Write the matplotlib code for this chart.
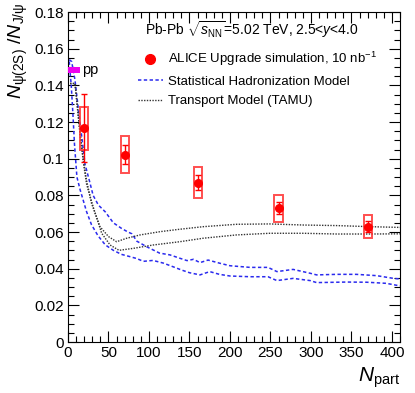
import matplotlib
matplotlib.use("Agg")
import matplotlib.pyplot as plt
from matplotlib.patches import Rectangle
from matplotlib.ticker import MultipleLocator

plt.rcParams['font.family'] = ['Liberation Sans', 'DejaVu Sans']
plt.rcParams['mathtext.fontset'] = 'custom'
plt.rcParams['mathtext.rm'] = 'Liberation Sans'
plt.rcParams['mathtext.it'] = 'Liberation Sans:italic'
plt.rcParams['mathtext.bf'] = 'Liberation Sans:bold'

# ALICE upgrade simulation points
npart = [20, 70, 160, 260, 370]
ratio = [0.1166, 0.1022, 0.0870, 0.0729, 0.0629]
stat_err = [0.0185, 0.0050, 0.0040, 0.0032, 0.0030]
sys_err = [0.0117, 0.0100, 0.0087, 0.0075, 0.0063]
box_halfwidth = 5

# pp reference
pp_value = 0.1484
pp_halfheight = 0.0014
pp_range = [0, 15]

# Statistical Hadronization Model band (upper / lower)
shm_up_x = [1.5, 4.5, 8.6, 12.8, 17, 21, 27, 31, 37.5, 46, 56, 66, 74, 79, 85, 97, 113,
            126, 138, 147, 155, 163, 173, 188, 200, 225, 247, 258, 278, 299, 307, 332,
            356, 381, 402, 410]
shm_up_y = [0.154, 0.153, 0.143, 0.127, 0.112, 0.097, 0.087, 0.080, 0.0747, 0.071, 0.065,
            0.062, 0.060, 0.059, 0.055, 0.052, 0.0485, 0.0475, 0.0457, 0.0444, 0.0451,
            0.0433, 0.0447, 0.0429, 0.0416, 0.0407, 0.0407, 0.0384, 0.0396, 0.0375,
            0.0366, 0.0369, 0.0369, 0.0362, 0.0347, 0.0344]
shm_lo_x = [1.5, 4, 6, 8, 11, 15, 19, 23, 29, 37, 46, 56, 66, 77, 85, 93, 105, 118, 130,
            140, 150, 163, 175, 187, 200, 225, 247, 258, 278, 299, 307, 344, 369, 393, 410]
shm_lo_y = [0.153, 0.140, 0.125, 0.108, 0.090, 0.083, 0.077, 0.071, 0.064, 0.058, 0.053,
            0.050, 0.0478, 0.0465, 0.0455, 0.044, 0.0445, 0.043, 0.041, 0.0393, 0.0378,
            0.0366, 0.0384, 0.0369, 0.036, 0.0356, 0.0356, 0.0335, 0.0347, 0.0335,
            0.0324, 0.0327, 0.0326, 0.032, 0.0306]

# Transport Model (TAMU) band (upper / lower)
tamu_a_x = [2.5, 8.6, 10.7, 14.8, 19, 23, 29, 39.5, 50, 60, 72.5, 89, 114, 138, 167, 208,
            249, 291, 332, 373, 410]
tamu_a_y = [0.141, 0.141, 0.132, 0.114, 0.099, 0.088, 0.0757, 0.0629, 0.0575, 0.0547,
            0.0566, 0.0584, 0.0602, 0.0615, 0.0629, 0.0642, 0.0644, 0.0638, 0.0635,
            0.0629, 0.0625]
tamu_b_x = [2.5, 8.6, 10.7, 14.8, 19, 23, 31, 41.6, 52, 63, 81, 105, 138, 167, 208, 249,
            291, 332, 373, 410]
tamu_b_y = [0.141, 0.141, 0.132, 0.114, 0.098, 0.086, 0.0738, 0.0593, 0.0529, 0.0500,
            0.0511, 0.0529, 0.0547, 0.0566, 0.0584, 0.0593, 0.0593, 0.0589, 0.0589, 0.0590]

fig = plt.figure(figsize=(4.15, 3.93), dpi=100)
ax = fig.add_axes([68 / 415, 51 / 393, 332 / 415, 330 / 393])

blue = '#2a2aee'
ax.plot(shm_up_x, shm_up_y, color=blue, lw=1.1, dashes=(2.2, 1.6),
        label='Statistical Hadronization Model')
ax.plot(shm_lo_x, shm_lo_y, color=blue, lw=1.1, dashes=(2.2, 1.6))
ax.plot(tamu_a_x, tamu_a_y, color='#333333', lw=1.0, dashes=(1, 1),
        label='Transport Model (TAMU)')
ax.plot(tamu_b_x, tamu_b_y, color='#333333', lw=1.0, dashes=(1, 1))

ax.add_patch(Rectangle((pp_range[0], pp_value - pp_halfheight), pp_range[1] - pp_range[0],
                       2 * pp_halfheight, color='#ee00ee', lw=0, clip_on=False, zorder=5))
ax.text(17, pp_value, 'pp', fontsize=10.5, va='center', ha='left')

for x, y, s in zip(npart, ratio, sys_err):
    ax.add_patch(Rectangle((x - box_halfwidth, y - s), 2 * box_halfwidth, 2 * s,
                           fill=False, edgecolor='#ff3030', lw=1.4, alpha=0.85, zorder=6))
ax.errorbar(npart, ratio, yerr=stat_err, fmt='o', color='#ff0000', ms=5.5,
            elinewidth=1.0, capsize=2, capthick=1.0, zorder=7)

handles, labels = ax.get_legend_handles_labels()
pt = ax.plot([], [], 'o', color='#ff0000', ms=7)[0]
leg = ax.legend([pt, handles[0], handles[1]],
                ['ALICE Upgrade simulation, 10 nb$^{\\mathregular{-1}}$',
                 'Statistical Hadronization Model', 'Transport Model (TAMU)'],
                loc='upper left', bbox_to_anchor=(0.21, 0.885), frameon=False,
                fontsize=9.5, handlelength=1.9, handletextpad=0.4, labelspacing=0.55,
                borderaxespad=0, borderpad=0)

ax.text(0.232, 0.976, 'Pb-Pb $\\sqrt{s_{\\mathrm{NN}}}$=5.02 TeV, 2.5<$y$<4.0',
        transform=ax.transAxes, fontsize=10, va='top', ha='left')

ax.set_xlim(0, 410)
ax.set_ylim(0, 0.18)
ax.xaxis.set_major_locator(MultipleLocator(50))
ax.xaxis.set_minor_locator(MultipleLocator(10))
ax.yaxis.set_minor_locator(MultipleLocator(0.005))
ax.set_yticks([0, 0.02, 0.04, 0.06, 0.08, 0.1, 0.12, 0.14, 0.16, 0.18])
ax.set_yticklabels(['0', '0.02', '0.04', '0.06', '0.08', '0.1', '0.12', '0.14', '0.16', '0.18'])
ax.tick_params(which='both', direction='in', top=True, right=True, labelsize=11, pad=3)
ax.tick_params(which='major', length=8, width=0.8)
ax.tick_params(which='minor', length=4, width=0.8)

ax.set_ylabel('$N_{\\mathrm{\\psi(2S)}}$ /$N_{\\mathrm{J/\\psi}}$', fontsize=14, loc='top')
ax.yaxis.set_label_coords(-0.115, 1.027)
ax.set_xlabel('$N_{\\mathrm{part}}$', fontsize=15, loc='right')
ax.xaxis.set_label_coords(1.0, -0.07)

plt.savefig('out.png', dpi=100)
